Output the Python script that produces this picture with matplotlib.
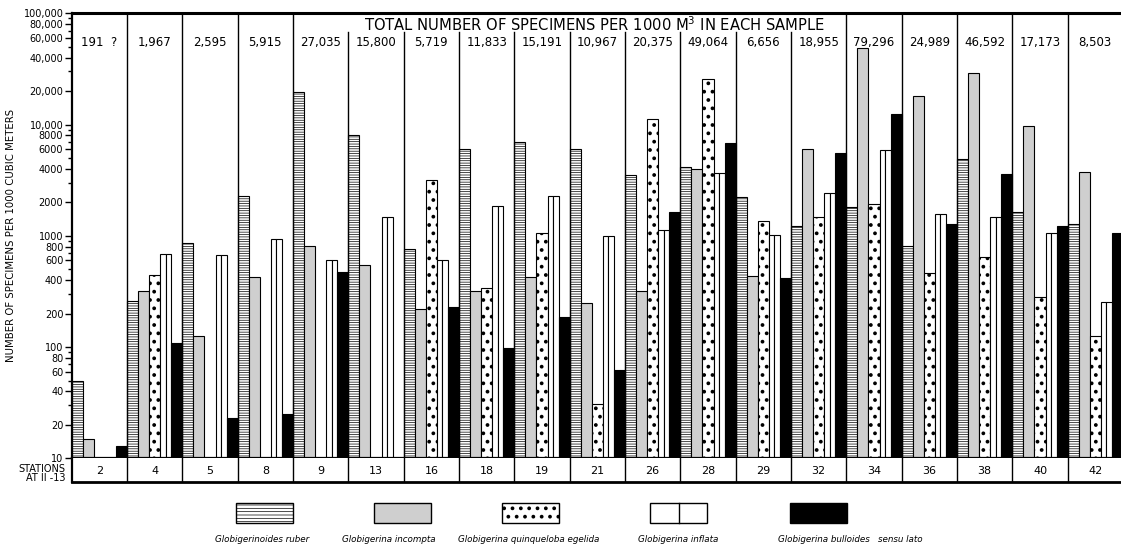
import numpy as np
import matplotlib
matplotlib.use("Agg")
import matplotlib.pyplot as plt
from matplotlib.patches import Rectangle

nan = np.nan

stations = ['2', '4', '5', '8', '9', '13', '16', '18', '19', '21',
            '26', '28', '29', '32', '34', '36', '38', '40', '42']
totals = ['191  ?', '1,967', '2,595', '5,915', '27,035', '15,800', '5,719',
          '11,833', '15,191', '10,967', '20,375', '49,064', '6,656', '18,955',
          '79,296', '24,989', '46,592', '17,173', '8,503']

# specimens per 1000 m^3, one value per station
ruber = [50, 258, 857, 2280, 19600, 8000, 760, 6070, 6970, 6000,
         3540, 4180, 2250, 1225, 1800, 815, 4870, 1625, 1270]
incompta = [15, 321, 126, 424, 809, 550, 218, 319, 424, 249,
            319, 3960, 438, 6000, 49100, 18150, 29200, 9700, 3720]
quinqueloba = [nan, 444, nan, nan, nan, nan, 3155, 341, 1067, 31,
               11300, 25800, 1358, 1486, 1932, 460, 641, 284, 126]
inflata = [nan, 682, 671, 930, 606, 1486, 606, 1854, 2281, 995,
           1127, 3690, 1016, 2410, 5900, 1571, 1486, 1067, 252]
bulloides = [13, 108, 23, 25, 470, nan, 231, 99, 187, 62,
             1636, 6870, 420, 5580, 12450, 1277, 3610, 1225, 1067]

species = ['Globigerinoides ruber', 'Globigerina incompta',
           'Globigerina quinqueloba egelida', 'Globigerina inflata',
           'Globigerina bulloides   sensu lato']

major_ticks = [10, 20, 40, 60, 80, 100, 200, 400, 600, 800, 1000, 2000,
               4000, 6000, 8000, 10000, 20000, 40000, 60000, 80000, 100000]
minor_ticks = [30, 50, 70, 90, 300, 500, 700, 900, 3000, 5000, 7000, 9000,
               30000, 50000, 70000, 90000]

plt.rcParams['font.family'] = ['DejaVu Sans']
plt.rcParams['hatch.linewidth'] = 0.6

W, H = 1121, 546
fig = plt.figure(figsize=(W / 100, H / 100), dpi=100)

# axes box in pixels
x0, x1 = 71.7, 1123.0
y_top, y_bot = 13.3, 458.3
ax = fig.add_axes([x0 / W, 1 - y_bot / H, (x1 - x0) / W, (y_bot - y_top) / H])

n = len(stations)
x = np.arange(n)
bw = 0.2
EDGE = dict(edgecolor='black', linewidth=0.8)


def hatched_bar(xpos, vals, width, hatch, face, hlw):
    with plt.rc_context({'hatch.linewidth': hlw}):
        bars = ax.bar(xpos, vals, width, align='edge', color=face,
                      hatch=hatch, **EDGE)
    for b in bars:
        if hasattr(b, 'set_hatch_linewidth'):
            b.set_hatch_linewidth(hlw)
    return bars


hatched_bar(x + 0 * bw, ruber, bw, '-------', 'white', 0.5)
hatched_bar(x + 1 * bw, incompta, bw, None, '#cfcfcf', 0.5)
hatched_bar(x + 2 * bw, quinqueloba, bw, '..', 'white', 1.5)
# inflata: white bar split down the middle
hatched_bar(x + 3 * bw, inflata, bw / 2, None, 'white', 0.5)
hatched_bar(x + 3.5 * bw, inflata, bw / 2, None, 'white', 0.5)
ax.bar(x + 4 * bw, bulloides, bw, align='edge', color='black', **EDGE)

ax.set_yscale('log')
ax.set_ylim(10, 100000)
ax.set_xlim(0, n)
ax.set_yticks(major_ticks)
ax.set_yticklabels([f'{v:,}' if v >= 10000 else str(v) for v in major_ticks],
                   fontsize=7)
ax.set_yticks(minor_ticks, minor=True)
ax.yaxis.set_minor_formatter(plt.NullFormatter())
ax.tick_params(axis='y', which='major', length=5, width=1, pad=1)
ax.tick_params(axis='y', which='minor', length=3, width=1)
ax.set_xticks([])
for s in ['left', 'bottom']:
    ax.spines[s].set_linewidth(1.6)
ax.spines['top'].set_linewidth(2.2)
ax.spines['right'].set_visible(False)

# station dividers; those under the heading stop short of the top
for k in range(1, n):
    top = 0.958 if 5 <= k <= 13 else 1.0
    ax.axvline(k, ymin=0, ymax=top, color='black', linewidth=1.0)

ax.text(0.497, 0.974, 'TOTAL NUMBER OF SPECIMENS PER 1000 M$^3$ IN EACH SAMPLE',
        transform=ax.transAxes, ha='center', va='center', fontsize=10.6)
for i, t in enumerate(totals):
    ax.text(i + 0.5, 0.935, t, transform=ax.get_xaxis_transform(),
            ha='center', va='center', fontsize=8.5)

ax.text(-0.058, 0.5, 'NUMBER OF SPECIMENS PER 1000 CUBIC METERS',
        transform=ax.transAxes, rotation=90, ha='center', va='center',
        fontsize=7.3)

# station row
y_row = 481.5
axs = fig.add_axes([x0 / W, 1 - y_row / H, (x1 - x0) / W, (y_row - y_bot) / H])
axs.set_xlim(0, n)
axs.set_ylim(0, 1)
axs.set_xticks([])
axs.set_yticks([])
axs.spines['right'].set_visible(False)
axs.spines['top'].set_visible(False)
axs.spines['left'].set_linewidth(1.6)
axs.spines['bottom'].set_linewidth(2.0)
for k in range(1, n):
    axs.axvline(k, color='black', linewidth=1.0)
for i, s in enumerate(stations):
    axs.text(i + 0.5, 0.45, s, ha='center', va='center', fontsize=8)
fig.text(65 / W, 1 - 469.5 / H, 'STATIONS', ha='right', va='center', fontsize=7)
fig.text(65 / W, 1 - 478 / H, 'AT II -13', ha='right', va='center', fontsize=7)

# key below the chart, laid out in pixel units
axl = fig.add_axes([0, 0, 1, 56 / H])
axl.set_xlim(0, W)
axl.set_ylim(H, H - 56)
axl.axis('off')
sw_x = [236, 374, 502, 650, 790]
sw_w = 57
sw_y, sw_h = 503, 20
faces = ['white', '#cfcfcf', 'white', 'white', 'black']
hatches = ['-----', None, '..', None, None]
hlws = [0.5, 0.5, 1.5, 0.5, 0.5]
for xs, fc, hh, lw in zip(sw_x, faces, hatches, hlws):
    with plt.rc_context({'hatch.linewidth': lw}):
        r = Rectangle((xs, sw_y), sw_w, sw_h, facecolor=fc, edgecolor='black',
                      linewidth=1.0, hatch=hh)
    if hasattr(r, 'set_hatch_linewidth'):
        r.set_hatch_linewidth(lw)
    axl.add_patch(r)
axl.plot([sw_x[3] + sw_w / 2] * 2, [sw_y, sw_y + sw_h], color='black', linewidth=1.0)
label_x = [262, 389, 529, 678, 850]
for lx, name in zip(label_x, species):
    axl.text(lx, 540, name, ha='center', va='center', fontsize=6.3,
             style='italic')

fig.savefig('out.png', dpi=100)
